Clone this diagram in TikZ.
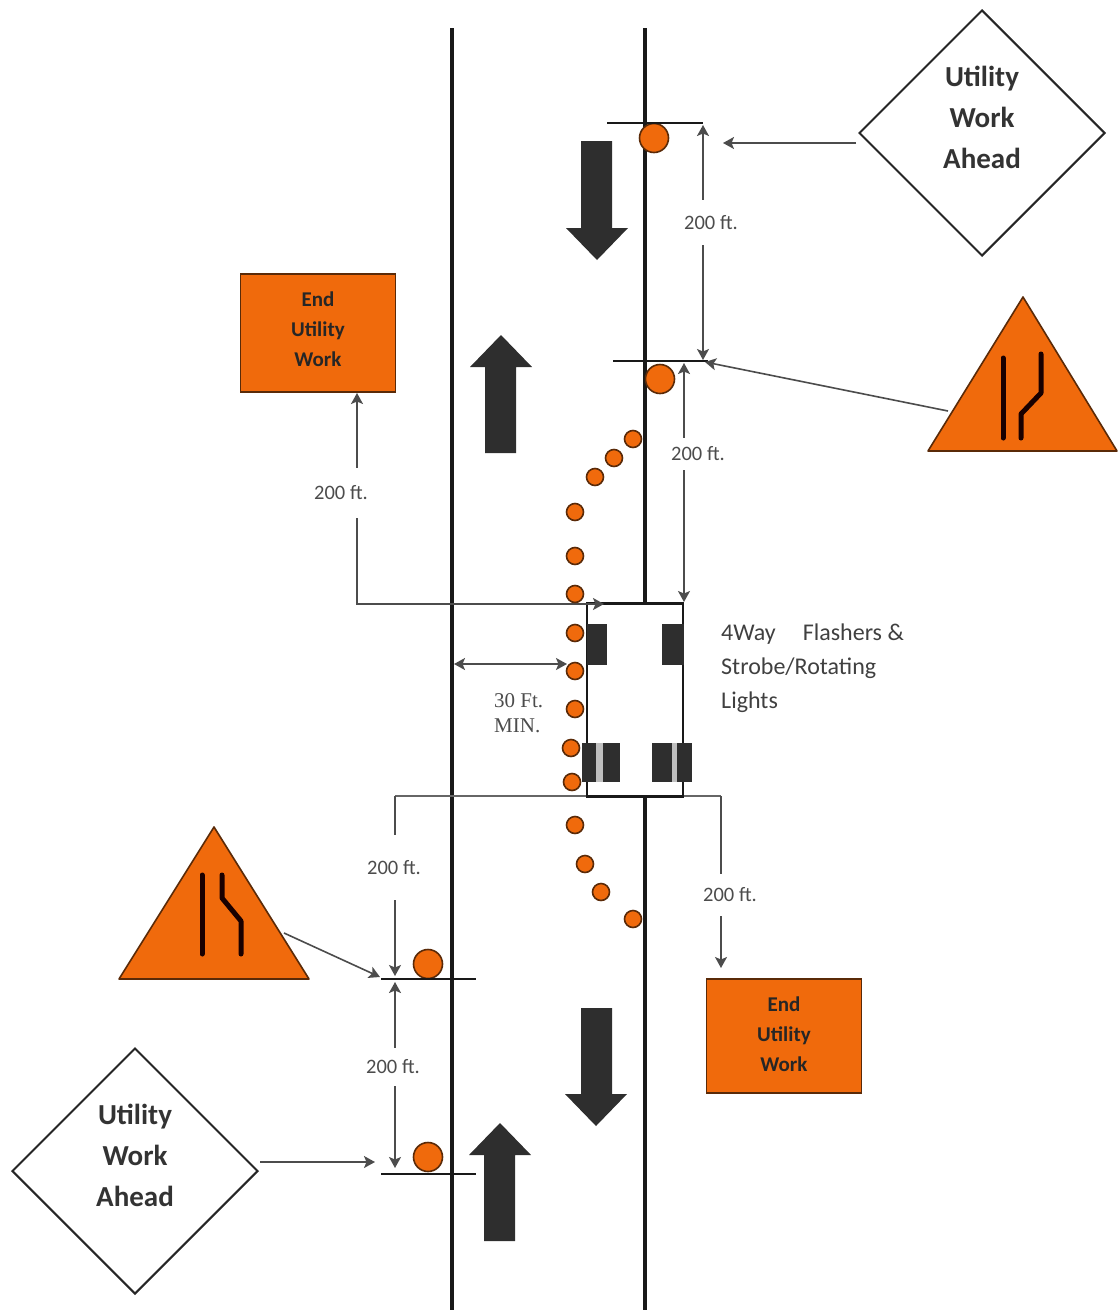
\documentclass[tikz,border=0pt]{standalone}
\usepackage{fontspec}
\setmainfont{Carlito}
\newfontfamily\timesf{Liberation Serif}
\usetikzlibrary{arrows.meta,shapes.geometric}
\definecolor{signorange}{HTML}{F06A0C}
\definecolor{darkblock}{HTML}{2E2E2E}
\definecolor{coneedge}{HTML}{5A2A08}
\tikzset{
  x=1pt,y=-1pt,
  road/.style={line width=3.6pt,black!90},
  cone/.style={circle,draw=coneedge,fill=signorange,line width=1.6pt,inner sep=0pt,minimum size=#1},
  cone/.default=17pt,
  bar/.style={line width=2.4pt,black!90},
  tip/.tip={Stealth[length=11pt,width=12pt,inset=2.5pt]},
  conn/.style={line width=1.6pt,black!70,-tip},
  conn2/.style={line width=1.6pt,black!70,tip-tip},
  plainline/.style={line width=1.5pt,black!60},
  dim/.style={fill=white,inner sep=0pt,minimum width=57pt,minimum height=#1,font=\fontsize{20.5}{22}\selectfont,text=black!70},
  dim/.default=36pt,
  diasign/.style={diamond,draw=black!85,fill=white,line width=2pt,aspect=1,inner sep=0pt,minimum size=#1},
  diatext/.style={font=\fontsize{29}{41}\selectfont\bfseries,align=center,text=black!80},
  orsign/.style={draw=coneedge,fill=signorange,line width=1.6pt,minimum width=155pt,minimum height=118pt,inner sep=0pt},
  ortext/.style={font=\fontsize{21}{30}\selectfont\bfseries,align=center,text=black!85},
  tri/.style={draw=coneedge,fill=signorange,line width=1.6pt,line join=round},
  lanemark/.style={line width=5pt,black!90!red,line cap=round,line join=round},
  block/.style={fill=darkblock,draw=none,inner sep=0pt},
  gapfill/.style={fill=black!25,draw=none},
  bigarrow/.style={fill=darkblock,draw=none},
  note/.style={font=\fontsize{24}{34}\selectfont,align=left,text=black!75},
}
\begin{document}
\begin{tikzpicture}
\useasboundingbox (0,0) rectangle (1118,1310);
% roads
\coordinate (RLt) at (452,28); \coordinate (RLb) at (452,1310);
\coordinate (RRt) at (645,28); \coordinate (RRb) at (645,1310);
\draw[road] (RLt) -- (RLb);
\draw[road] (RRt) -- (RRb);

% big arrows
\fill[bigarrow] (581,141) -- (612,141) -- (612,228) -- (628,228) -- (597,260) -- (566,228) -- (581,228) -- cycle;
\fill[bigarrow] (485,453) -- (516,453) -- (516,367) -- (532,367) -- (501,335) -- (470,367) -- (485,367) -- cycle;
\fill[bigarrow] (581,1008) -- (612,1008) -- (612,1094) -- (627,1094) -- (596,1126) -- (565,1094) -- (581,1094) -- cycle;
\fill[bigarrow] (484,1241) -- (515,1241) -- (515,1155) -- (531,1155) -- (500,1123) -- (469,1155) -- (484,1155) -- cycle;

% lower and upper leader lines (behind the truck)
\coordinate (h1) at (395,796); \coordinate (h2) at (721,796);
\draw[plainline] (h1) -- (h2);
\coordinate (f1) at (357,393); \coordinate (f2) at (357,604); \coordinate (f3) at (604,604);
\draw[conn] (f3) -- (f2) -- (f1);

% truck body
\node[draw=black!90,fill=white,line width=2.4pt,minimum width=96pt,minimum height=193pt,inner sep=0pt] (truck) at (635,700) {};
\draw[conn] (585,604) -- (f3);
\node[block,minimum width=20pt,minimum height=41pt] (w1) at (597,644) {};
\node[block,minimum width=22pt,minimum height=41pt] (w2) at (673,644) {};
\fill[gapfill] (596,743) rectangle (603,782);
\fill[gapfill] (672,743) rectangle (677,782);
\node[block,minimum width=14pt,minimum height=39pt] (w3) at (589,762.5) {};
\node[block,minimum width=17pt,minimum height=39pt] (w4) at (611.5,762.5) {};
\node[block,minimum width=20pt,minimum height=39pt] (w5) at (662,762.5) {};
\node[block,minimum width=15pt,minimum height=39pt] (w6) at (684.5,762.5) {};

% cones
\node[cone=29pt] (c1) at (654,138) {};
\node[cone=29pt] (c2) at (660,379) {};
\node[cone] (c3) at (633,439) {};
\node[cone] (c4) at (614,458) {};
\node[cone] (c5) at (595,477) {};
\node[cone] (c6) at (575,512) {};
\node[cone] (c7) at (575,556) {};
\node[cone] (c8) at (575,594) {};
\node[cone] (c9) at (575,633) {};
\node[cone] (c10) at (575,671) {};
\node[cone] (c11) at (575,709) {};
\node[cone] (c12) at (571,748) {};
\node[cone] (c13) at (572,782) {};
\node[cone] (c14) at (575,825) {};
\node[cone] (c15) at (585,864) {};
\node[cone] (c16) at (601,892) {};
\node[cone] (c17) at (633,919) {};
\node[cone=29pt] (c18) at (428,964) {};
\node[cone=29pt] (c19) at (428,1157) {};

% taper bars
\coordinate (b1l) at (607,123); \coordinate (b1r) at (703,123);
\coordinate (b2l) at (613,361); \coordinate (b2r) at (708,361);
\coordinate (b3l) at (381,979); \coordinate (b3r) at (476,979);
\coordinate (b4l) at (381,1174); \coordinate (b4r) at (476,1174);
\draw[bar] (b1l) -- (b1r);
\draw[bar] (b2l) -- (b2r);
\draw[bar] (b3l) -- (b3r);
\draw[bar] (b4l) -- (b4r);

% signs
\node[diasign=246pt] (d1) at (982,133) {};
\node[diatext] at (982,117) {Utility\\Work\\Ahead};
\node[diasign=246pt] (d2) at (135,1171) {};
\node[diatext] at (135,1155) {Utility\\Work\\Ahead};
\node[orsign] (o1) at (318,333) {};
\node[ortext] at (318,329) {End\\Utility\\Work};
\node[orsign,minimum height=114pt] (o2) at (784,1036) {};
\node[ortext] at (784,1034) {End\\Utility\\Work};

\draw[tri] (1023,297) -- (1117,451) -- (928,451) -- cycle;
\coordinate (t1) at (948,411);
\draw[lanemark] (1003,358) -- (1003,438);
\draw[lanemark] (1041,354) -- (1041,393) -- (1021,414) -- (1021,438);
\draw[tri] (214,827) -- (309,979) -- (119,979) -- cycle;
\coordinate (t2) at (284,933);
\draw[lanemark] (202,875) -- (202,954);
\draw[lanemark] (222,875) -- (222,898) -- (241,921) -- (241,954);

% sign pointers
\coordinate (p1) at (723,143);
\coordinate (p2) at (705,362);
\coordinate (p3) at (380,977);
\coordinate (p4) at (375,1162);
\coordinate (d1w) at (856,143);
\coordinate (d2e) at (260,1162);
\draw[conn] (d1w) -- (p1);
\draw[conn] (t1) -- (p2);
\draw[conn] (t2) -- (p3);
\draw[conn] (d2e) -- (p4);

% dimensions
\coordinate (e1t) at (703,125); \coordinate (e1b) at (703,360);
\draw[conn2] (e1t) -- (e1b);
\node[dim=45pt] (l1) at (711,222.5) {200 ft.};
\coordinate (e2t) at (684,363); \coordinate (e2b) at (684,602);
\draw[conn2] (e2t) -- (e2b);
\node[dim=32pt] (l2) at (698,454) {200 ft.};
\node[dim=50pt] (l3) at (341,493) {200 ft.};

% 30 ft
\coordinate (g1) at (454,664); \coordinate (g2) at (567,664);
\draw[conn2] (g1) -- (g2);
\node[font=\timesf\fontsize{21}{25}\selectfont,align=left,text=black!70,anchor=north west,inner sep=0pt] (g3) at (494,693) {30 Ft.\\MIN.};

% lower dims
\coordinate (h3) at (395,976);
\draw[conn] (h1) -- (h3);
\node[dim=65pt] (l4) at (394,867.5) {200 ft.};
\coordinate (h4) at (721,968);
\draw[conn] (h2) -- (h4);
\node[dim=42pt] (l5) at (730,895) {200 ft.};
\coordinate (h5) at (395,982); \coordinate (h6) at (395,1168);
\draw[conn2] (h5) -- (h6);
\node[dim=38pt] (l6) at (393,1067) {200 ft.};

% note
\node[note,anchor=north west,inner sep=0pt] (n) at (721,624) {4Way\hspace{27pt}Flashers \&\\Strobe/Rotating\\Lights};
\end{tikzpicture}
\end{document}
